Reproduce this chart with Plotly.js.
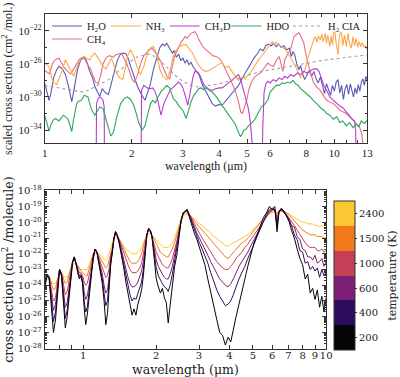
<!DOCTYPE html>
<html><head><meta charset="utf-8">
<script src="https://cdn.plot.ly/plotly-3.0.1.min.js"></script>
<style>html,body{margin:0;padding:0;background:#fff}#chart{width:400px;height:377px}</style>
</head><body><div id="chart"></div>
<script>
// ---------- TOP PANEL DATA (wavelength in µm, values as log10 of scaled cross section) ----------
const h2oWl = [1.00,1.02,1.035,1.05,1.075,1.10,1.12,1.15,1.18,1.21,
1.24,1.27,1.30,1.33,1.37,1.40,1.43,1.46,1.49,1.52,
1.55,1.58,1.62,1.66,1.70,1.74,1.78,1.82,1.87,1.91,
1.95,1.98,2.03,2.09,2.15,2.22,2.27,2.31,2.38,2.45,
2.50,2.55,2.60,2.64,2.68,2.72,2.76,2.80,2.85,2.90,
2.95,3.00,3.05,3.10,3.15,3.20,3.26,3.33,3.42,3.50,
3.60,3.69,3.79,3.89,4.00,4.10,4.21,4.32,4.43,4.55,
4.67,4.80,4.92,5.05,5.18,5.30,5.42,5.55,5.68,5.80,
5.92,6.05,6.18,6.30,6.42,6.55,6.70,6.85,7.00,7.10,
7.20,7.30,7.42,7.55,7.65,7.78,7.90,8.05,8.20,8.35,
8.50,8.65,8.80,8.95,9.10,9.25,9.40,9.55,9.70,9.85,
10.0,10.15,10.3,10.45,10.6,10.75,10.9,11.05,11.2,11.35,
11.5,11.65,11.8,11.95,12.1,12.25,12.4,12.55,12.7,12.85,
13.0];
const h2oLog = [-28.3,-29.4,-30.4,-29.6,-27.6,-26.7,-26.3,-26.6,-27.3,-28.8,
-30.6,-28.6,-26.6,-25.6,-25.1,-25.8,-26.9,-27.6,-28.7,-29.4,
-29.9,-29.0,-29.5,-29.7,-28.3,-27.1,-25.6,-24.9,-24.7,-24.8,
-25.5,-26.3,-27.4,-28.7,-29.6,-30.4,-29.4,-28.6,-26.5,-24.9,
-24.0,-23.6,-23.8,-23.5,-23.9,-24.3,-24.7,-24.4,-25.2,-24.8,
-25.6,-25.3,-25.9,-25.5,-26.1,-25.8,-26.4,-26.8,-27.4,-28.5,
-29.3,-30.1,-30.8,-31.1,-30.9,-31.0,-30.5,-30.1,-29.6,-29.0,
-28.6,-27.8,-27.2,-26.4,-25.8,-25.2,-24.8,-24.2,-24.4,-23.8,
-23.6,-23.8,-23.5,-23.9,-23.6,-24.0,-23.8,-24.3,-24.1,-25.1,
-24.5,-24.9,-26.0,-26.7,-26.2,-27.2,-27.9,-27.3,-26.8,-27.5,
-26.9,-27.8,-28.3,-27.6,-28.8,-29.6,-28.4,-29.2,-29.8,-28.6,
-29.3,-28.2,-27.9,-29.5,-28.6,-30.3,-29.0,-28.5,-29.7,-28.4,
-29.1,-30.0,-28.9,-29.6,-28.5,-29.3,-28.2,-27.8,-28.6,-27.5,
-28.0];

const ch4Wl = [1.00,1.02,1.04,1.06,1.08,1.10,1.12,1.14,1.17,1.20,
1.23,1.26,1.29,1.32,1.35,1.38,1.41,1.44,1.47,1.50,
1.53,1.56,1.59,1.62,1.65,1.68,1.72,1.76,1.80,1.84,
1.88,1.92,1.96,2.00,2.04,2.08,2.12,2.16,2.20,2.25,
2.30,2.35,2.40,2.45,2.50,2.55,2.60,2.65,2.70,2.75,
2.80,2.85,2.90,2.95,3.00,3.05,3.10,3.15,3.20,3.25,
3.30,3.35,3.40,3.50,3.60,3.70,3.80,3.90,4.00,4.10,
4.21,4.32,4.43,4.55,4.67,4.75,4.82,4.90,4.98,5.08,
5.18,5.30,5.45,5.60,5.75,5.90,6.05,6.17,6.30,6.45,
6.55,6.64,6.75,6.90,7.06,7.15,7.26,7.36,7.45,7.55,
7.65,7.75,7.85,7.95,8.06,8.15,8.27,8.40,8.49,8.70,
8.94,9.20,9.42,9.65,9.92,10.2,10.45,10.7,11.0,11.3,
11.6,11.9,12.2,12.4,12.55,12.65];
const ch4Log = [-26.8,-27.0,-27.2,-26.1,-25.6,-25.4,-25.3,-25.8,-26.5,-26.9,
-27.2,-26.6,-25.9,-25.4,-25.2,-25.5,-26.2,-26.6,-27.5,-28.2,
-28.4,-27.4,-26.0,-25.4,-25.1,-25.0,-25.2,-24.9,-24.8,-24.7,
-25.3,-26.0,-26.8,-27.8,-28.2,-27.6,-26.6,-25.6,-25.0,-24.6,
-24.3,-24.1,-24.5,-25.0,-25.5,-26.2,-27.0,-27.6,-27.8,-26.4,
-25.2,-24.6,-24.0,-23.4,-23.1,-22.7,-22.9,-22.6,-22.3,-22.2,
-22.1,-22.4,-23.0,-23.8,-24.3,-24.6,-25.0,-25.1,-25.3,-25.8,
-26.6,-27.4,-28.3,-29.3,-30.6,-31.8,-32.0,-31.2,-30.4,-29.0,
-28.2,-27.6,-27.3,-27.0,-26.4,-25.9,-26.2,-26.3,-25.6,-25.1,
-26.0,-26.9,-25.5,-24.8,-24.3,-23.4,-22.7,-22.5,-22.3,-22.2,
-22.6,-23.0,-23.5,-24.6,-25.5,-26.3,-27.1,-27.8,-28.3,-28.8,
-29.2,-29.9,-30.4,-30.6,-30.8,-31.2,-31.6,-31.8,-32.0,-32.4,
-32.8,-33.2,-33.6,-34.2,-35.3,-36.5];

const nh3Wl = [1.00,1.02,1.034,1.05,1.06,1.08,1.10,1.13,1.16,1.18,
1.21,1.24,1.26,1.29,1.31,1.34,1.37,1.40,1.43,1.46,
1.49,1.53,1.56,1.59,1.63,1.66,1.70,1.74,1.78,1.82,
1.86,1.90,1.93,1.98,2.03,2.08,2.14,2.20,2.24,2.28,
2.33,2.37,2.43,2.50,2.56,2.64,2.71,2.78,2.85,2.93,
3.00,3.08,3.16,3.24,3.33,3.42,3.50,3.60,3.69,3.79,
3.90,4.00,4.10,4.21,4.32,4.43,4.55,4.67,4.80,4.92,
5.05,5.18,5.32,5.45,5.60,5.75,5.90,6.00,6.10,6.20,
6.30,6.45,6.60,6.80,6.95,7.06,7.20,7.35,7.50,7.65,
7.80,7.95,8.10,8.27,8.40,8.50,8.60,8.70,8.80,8.94,
9.05,9.15,9.30,9.40,9.50,9.65,9.75,9.85,9.95,10.05,
10.15,10.3,10.4,10.5,10.6,10.7,10.85,11.0,11.15,11.3,
11.45,11.6,11.75,11.9,12.05,12.2,12.35,12.5,12.65,12.8,
13.0];
const nh3Log = [-25.9,-26.1,-26.3,-27.2,-27.9,-28.3,-28.5,-27.5,-26.3,-25.5,
-26.3,-27.1,-27.5,-26.5,-25.9,-25.3,-25.1,-25.4,-25.5,-25.0,
-24.7,-25.3,-25.8,-26.3,-26.6,-26.0,-25.3,-26.3,-27.3,-27.7,
-27.9,-26.4,-25.1,-24.3,-25.1,-26.3,-27.3,-26.3,-25.2,-24.3,
-24.0,-23.9,-24.7,-26.7,-27.5,-27.9,-26.8,-25.1,-24.3,-23.9,
-23.7,-23.7,-24.2,-24.7,-25.6,-26.3,-26.7,-26.9,-26.8,-26.6,
-26.3,-26.0,-25.9,-26.4,-26.3,-26.9,-27.4,-28.0,-27.6,-27.8,
-27.3,-26.9,-26.2,-25.6,-25.1,-24.5,-23.9,-23.6,-23.3,-23.6,
-23.4,-23.7,-24.0,-24.3,-24.8,-25.3,-25.8,-26.3,-27.0,-27.7,
-27.2,-26.5,-25.3,-24.3,-23.5,-23.0,-22.7,-23.4,-22.6,-23.1,
-22.4,-23.3,-22.3,-23.5,-22.5,-23.9,-22.6,-23.7,-22.2,-22.1,
-23.5,-24.9,-22.8,-22.2,-22.3,-23.8,-22.5,-23.9,-22.3,-23.6,
-24.1,-22.7,-23.8,-22.9,-24.0,-23.3,-23.9,-23.4,-24.0,-23.8,
-24.3];

const ch3dWl = [1.505,1.51,1.53,1.55,1.57,1.59,1.605,1.61,2.15,2.16,
2.20,2.26,2.31,2.36,2.40,2.45,2.52,2.58,2.66,2.72,
2.78,2.85,2.90,2.96,3.00,3.06,3.12,3.16,3.20,3.25,
3.30,3.38,3.45,3.52,3.60,3.70,3.79,3.89,4.00,4.10,
4.21,4.32,4.43,4.55,4.67,4.75,4.85,4.95,5.05,5.12,
5.18,5.22,5.26,5.62,5.66,5.72,5.80,5.90,6.00,6.15,
6.30,6.45,6.60,6.75,6.90,7.06,7.25,7.45,7.65,7.85,
8.05,8.27,8.49,8.70,8.85,9.00,9.20,9.40,9.65,9.92,
10.2,10.45,10.7,11.0,11.3,11.55,11.75,11.85,11.9];
const ch3dLog = [-40,-30.8,-30.2,-30.0,-30.1,-30.4,-31.2,-40,-40,-29.2,
-28.6,-28.9,-29.0,-28.9,-29.3,-30.2,-32.2,-30.8,-29.8,-29.1,
-28.8,-28.4,-28.2,-28.5,-28.9,-29.9,-31.0,-30.0,-28.8,-27.6,
-26.9,-27.0,-27.5,-28.3,-28.8,-29.1,-29.2,-29.0,-28.9,-28.9,
-28.6,-28.3,-28.0,-27.6,-27.3,-27.9,-29.2,-30.2,-31.4,-32.8,
-34.2,-36.0,-40,-40,-34.0,-29.5,-28.4,-28.1,-28.3,-27.9,
-28.1,-27.7,-27.9,-27.5,-27.7,-27.3,-27.5,-27.1,-27.3,-26.9,
-27.1,-26.8,-26.6,-26.6,-26.9,-27.6,-28.6,-29.2,-30.0,-30.4,
-30.8,-31.1,-31.3,-31.8,-32.4,-32.7,-32.9,-34.0,-40];

const hdoWl = [1.00,1.02,1.035,1.05,1.07,1.09,1.12,1.16,1.20,1.22,
1.24,1.26,1.29,1.31,1.34,1.37,1.41,1.45,1.49,1.52,
1.55,1.59,1.62,1.65,1.69,1.72,1.74,1.78,1.83,1.88,
1.93,1.98,2.03,2.08,2.11,2.17,2.22,2.28,2.32,2.36,
2.41,2.47,2.53,2.58,2.64,2.70,2.78,2.85,2.92,3.00,
3.08,3.14,3.20,3.27,3.33,3.40,3.46,3.53,3.60,3.70,
3.79,3.90,4.00,4.10,4.21,4.32,4.43,4.55,4.67,4.74,
4.80,4.88,4.96,5.05,5.18,5.32,5.45,5.60,5.75,5.90,
6.00,6.15,6.30,6.45,6.60,6.75,6.90,7.06,7.20,7.35,
7.50,7.65,7.85,8.05,8.27,8.50,8.70,8.95,9.20,9.42,
9.65,9.92,10.2,10.45,10.7,11.0,11.3,11.6,11.9,12.15,
12.4,12.7,13.0];
const hdoLog = [-32.2,-33.2,-34.1,-33.4,-32.8,-32.6,-32.9,-32.2,-32.6,-33.3,
-34.2,-32.6,-30.8,-30.5,-30.4,-29.8,-30.0,-31.5,-32.2,-31.7,
-31.2,-31.4,-32.4,-33.6,-34.7,-34.4,-33.8,-32.2,-30.8,-30.2,
-30.0,-30.3,-31.0,-32.2,-33.1,-34.0,-33.5,-31.8,-30.8,-30.4,
-30.7,-29.9,-29.3,-29.0,-28.6,-28.9,-30.2,-30.6,-31.2,-31.6,
-32.6,-31.6,-30.6,-29.8,-29.5,-29.0,-28.9,-29.1,-28.9,-29.2,
-29.4,-29.9,-30.5,-31.0,-31.6,-32.2,-32.7,-33.3,-34.3,-34.8,
-34.5,-34.0,-33.9,-33.5,-33.2,-32.7,-32.0,-31.2,-30.9,-30.3,
-29.4,-29.0,-28.6,-28.6,-28.3,-28.4,-28.2,-28.3,-28.0,-28.4,
-28.6,-29.0,-29.3,-29.6,-30.0,-30.5,-30.8,-31.3,-31.6,-32.0,
-32.2,-32.7,-32.4,-33.1,-32.9,-33.5,-33.1,-33.7,-33.3,-33.6,
-32.9,-33.2,-32.8];

const ciaWl = [1.0,1.1,1.2,1.3,1.37,1.45,1.55,1.66,1.78,1.9,2.0,2.1,2.2,2.3,2.4,2.5,2.64,2.8,3.0,3.2,3.4,3.7,4.0,4.5,5.0,5.6,6.3,7.0,8.0,9.0,10.0,11.0,12.0,13.0];
const ciaLog = [-28.6,-28.9,-29.1,-29.3,-29.4,-29.0,-28.5,-27.9,-27.0,-26.2,-25.6,-25.1,-24.9,-24.8,-25.1,-25.6,-26.4,-27.3,-28.1,-28.6,-28.8,-28.6,-28.4,-27.9,-27.4,-26.9,-26.6,-26.3,-25.9,-25.6,-25.4,-25.2,-25.0,-24.9];

// ---------- BOTTOM PANEL DATA (log10 cross section, cm^2/molecule) ----------
const wlBottom = [0.695,0.71,0.725,0.74,0.755,0.77,0.785,0.80,0.815,0.83,
0.845,0.86,0.875,0.89,0.905,0.92,0.935,0.95,0.965,0.98,
0.995,1.01,1.025,1.04,1.06,1.08,1.10,1.12,1.14,1.16,
1.18,1.20,1.22,1.24,1.26,1.28,1.30,1.32,1.34,1.36,
1.38,1.41,1.44,1.47,1.50,1.53,1.56,1.59,1.62,1.65,
1.68,1.71,1.74,1.77,1.80,1.83,1.86,1.89,1.92,1.96,
2.00,2.04,2.08,2.12,2.16,2.20,2.24,2.28,2.33,2.38,
2.43,2.48,2.53,2.58,2.63,2.68,2.74,2.80,2.87,2.94,
3.01,3.09,3.17,3.26,3.35,3.45,3.55,3.65,3.75,3.85,
3.95,4.05,4.15,4.26,4.38,4.50,4.63,4.76,4.90,5.05,
5.20,5.36,5.52,5.68,5.84,6.00,6.15,6.28,6.40,6.55,
6.70,6.86,7.02,7.20,7.40,7.60,7.80,8.00,8.20,8.40,
8.60,8.80,9.00,9.20,9.40,9.60,9.80,10.0];
const t200 = [-24.2,-23.4,-23.6,-25.5,-27.0,-26.2,-24.4,-23.0,-23.4,-24.8,
-26.7,-26.0,-24.8,-23.3,-22.6,-22.2,-22.6,-23.2,-23.6,-23.4,
-23.9,-25.4,-26.5,-25.9,-24.6,-23.5,-22.3,-21.7,-21.9,-22.6,
-23.2,-23.9,-25.0,-26.5,-25.8,-24.2,-22.6,-21.9,-21.0,-20.6,
-20.8,-21.4,-22.1,-22.9,-23.8,-24.4,-25.2,-25.9,-25.5,-25.9,
-25.2,-24.8,-24.3,-23.4,-22.0,-20.8,-20.4,-20.5,-20.9,-22.2,
-23.6,-24.1,-24.5,-24.2,-24.8,-25.1,-26.4,-25.3,-23.9,-22.8,
-22.1,-20.9,-19.9,-19.4,-19.3,-19.2,-19.7,-20.2,-20.7,-21.1,
-21.6,-22.1,-22.7,-23.6,-24.5,-25.3,-26.2,-27.0,-27.2,-27.8,
-27.3,-27.6,-26.7,-26.0,-25.2,-24.5,-23.6,-22.8,-22.0,-21.3,
-20.8,-20.2,-19.7,-19.4,-19.0,-19.2,-19.0,-20.6,-19.3,-19.1,
-19.3,-19.6,-19.9,-20.5,-21.0,-21.7,-22.3,-22.7,-23.6,-23.3,
-24.5,-24.2,-24.9,-24.3,-25.4,-24.7,-25.7,-24.8];
const t400 = [-24.0,-23.3,-23.5,-25.0,-26.3,-25.7,-24.1,-23.0,-23.3,-24.5,
-26.1,-25.6,-24.4,-23.2,-22.5,-22.2,-22.6,-23.1,-23.5,-23.4,
-23.8,-25.0,-25.7,-25.4,-24.3,-23.3,-22.2,-21.7,-21.9,-22.5,
-23.0,-23.6,-24.5,-25.3,-25.0,-23.8,-22.4,-21.8,-21.0,-20.6,
-20.8,-21.3,-22.0,-22.7,-23.4,-24.0,-24.6,-25.0,-24.8,-24.9,
-24.5,-24.2,-23.8,-23.0,-21.8,-20.8,-20.4,-20.5,-20.9,-21.9,
-22.9,-23.4,-23.7,-23.9,-24.1,-24.2,-24.4,-24.0,-23.3,-22.5,
-21.8,-20.8,-19.9,-19.4,-19.3,-19.2,-19.6,-20.0,-20.5,-20.9,
-21.3,-21.7,-22.1,-22.6,-23.2,-23.8,-24.3,-24.7,-25.0,-25.3,
-25.2,-25.0,-24.6,-24.1,-23.6,-23.2,-22.8,-22.3,-21.9,-21.4,
-20.9,-20.4,-19.9,-19.5,-19.2,-19.1,-19.2,-20.3,-19.3,-19.2,
-19.4,-19.5,-19.9,-20.2,-20.8,-21.1,-21.8,-21.9,-22.6,-22.5,
-23.0,-22.8,-23.1,-22.9,-23.5,-23.0,-23.4,-23.2];
const t600 = [-23.9,-23.3,-23.5,-24.6,-25.6,-25.2,-23.9,-23.0,-23.3,-24.3,
-25.4,-25.1,-24.1,-23.1,-22.5,-22.2,-22.6,-23.0,-23.4,-23.3,
-23.6,-24.4,-24.9,-24.7,-23.9,-23.1,-22.2,-21.7,-21.9,-22.4,
-22.8,-23.3,-24.0,-24.5,-24.3,-23.4,-22.3,-21.8,-21.0,-20.6,
-20.8,-21.2,-21.8,-22.4,-23.0,-23.5,-23.9,-24.1,-24.1,-24.0,
-23.8,-23.5,-23.1,-22.5,-21.6,-20.8,-20.4,-20.5,-20.9,-21.7,
-22.4,-22.8,-23.1,-23.3,-23.5,-23.6,-23.6,-23.3,-22.8,-22.1,
-21.5,-20.7,-19.9,-19.4,-19.3,-19.2,-19.5,-19.9,-20.3,-20.7,
-21.0,-21.4,-21.7,-22.1,-22.5,-22.9,-23.3,-23.6,-23.8,-24.0,
-24.1,-23.9,-23.6,-23.2,-22.8,-22.5,-22.2,-21.9,-21.5,-21.1,
-20.7,-20.3,-19.9,-19.6,-19.3,-19.2,-19.2,-20.0,-19.3,-19.2,
-19.3,-19.6,-19.7,-20.2,-20.3,-20.9,-21.1,-21.7,-21.8,-22.2,
-22.2,-22.4,-22.1,-22.6,-22.5,-22.3,-22.8,-22.5];
const t1000 = [-23.7,-23.3,-23.5,-24.3,-25.0,-24.8,-23.8,-23.0,-23.2,-23.9,
-24.6,-24.4,-23.7,-23.0,-22.5,-22.3,-22.6,-22.9,-23.2,-23.2,
-23.4,-23.8,-24.0,-23.9,-23.4,-22.8,-22.1,-21.8,-21.9,-22.2,
-22.5,-22.8,-23.2,-23.5,-23.4,-22.9,-22.1,-21.7,-21.0,-20.7,
-20.8,-21.1,-21.5,-22.0,-22.4,-22.7,-23.0,-23.2,-23.2,-23.2,
-23.1,-22.9,-22.6,-22.1,-21.4,-20.8,-20.5,-20.6,-20.9,-21.4,
-21.9,-22.2,-22.5,-22.7,-22.8,-22.9,-22.9,-22.7,-22.3,-21.8,
-21.2,-20.5,-19.9,-19.5,-19.3,-19.3,-19.5,-19.8,-20.1,-20.4,
-20.7,-21.0,-21.3,-21.6,-21.9,-22.2,-22.5,-22.7,-22.9,-23.0,
-23.0,-22.8,-22.6,-22.3,-22.1,-21.9,-21.6,-21.4,-21.1,-20.8,
-20.5,-20.2,-19.9,-19.6,-19.4,-19.2,-19.2,-19.7,-19.3,-19.2,
-19.3,-19.5,-19.7,-19.9,-20.2,-20.5,-20.8,-21.1,-21.3,-21.5,
-21.6,-21.6,-21.6,-21.8,-21.8,-21.7,-21.9,-21.8];
const t1500 = [-23.6,-23.3,-23.4,-23.9,-24.3,-24.2,-23.6,-23.1,-23.2,-23.5,
-23.9,-23.8,-23.3,-22.8,-22.5,-22.4,-22.6,-22.8,-23.0,-23.1,
-23.2,-23.3,-23.4,-23.4,-23.0,-22.5,-22.0,-21.8,-21.9,-22.1,
-22.3,-22.5,-22.7,-22.9,-22.8,-22.4,-21.9,-21.6,-21.0,-20.8,
-20.9,-21.1,-21.4,-21.7,-22.0,-22.3,-22.5,-22.6,-22.6,-22.6,
-22.5,-22.3,-22.0,-21.6,-21.1,-20.7,-20.5,-20.6,-20.8,-21.1,
-21.4,-21.7,-21.9,-22.0,-22.1,-22.2,-22.2,-22.0,-21.7,-21.3,
-20.8,-20.3,-19.8,-19.5,-19.4,-19.4,-19.5,-19.7,-19.9,-20.1,
-20.3,-20.5,-20.7,-20.9,-21.1,-21.4,-21.6,-21.8,-22.0,-22.2,
-22.3,-22.1,-21.9,-21.7,-21.5,-21.3,-21.2,-21.0,-20.8,-20.5,
-20.3,-20.0,-19.8,-19.6,-19.4,-19.3,-19.2,-19.5,-19.3,-19.3,
-19.3,-19.4,-19.5,-19.7,-19.9,-20.1,-20.3,-20.5,-20.6,-20.7,
-20.8,-20.8,-20.8,-20.9,-20.9,-20.9,-21.0,-21.0];
const t2400 = [-23.8,-23.6,-23.6,-23.8,-23.9,-23.9,-23.6,-23.3,-23.3,-23.4,
-23.5,-23.5,-23.2,-22.9,-22.7,-22.6,-22.7,-22.8,-22.9,-23.0,
-23.0,-23.0,-23.0,-23.0,-22.7,-22.3,-22.0,-21.9,-21.9,-22.0,
-22.1,-22.2,-22.3,-22.4,-22.3,-22.0,-21.6,-21.3,-21.0,-20.9,
-21.0,-21.1,-21.3,-21.5,-21.7,-21.8,-21.9,-22.0,-22.0,-22.0,
-21.9,-21.8,-21.6,-21.3,-21.0,-20.8,-20.7,-20.7,-20.8,-21.0,
-21.1,-21.3,-21.4,-21.5,-21.6,-21.6,-21.6,-21.5,-21.3,-21.0,
-20.6,-20.2,-19.8,-19.6,-19.5,-19.5,-19.6,-19.7,-19.8,-19.9,
-20.1,-20.2,-20.4,-20.5,-20.7,-20.9,-21.0,-21.2,-21.3,-21.5,
-21.5,-21.4,-21.3,-21.2,-21.1,-21.0,-20.9,-20.8,-20.6,-20.4,
-20.2,-20.0,-19.8,-19.6,-19.5,-19.4,-19.3,-19.4,-19.3,-19.3,
-19.3,-19.4,-19.5,-19.6,-19.7,-19.8,-19.9,-20.0,-20.0,-20.1,
-20.1,-20.1,-20.2,-20.2,-20.3,-20.2,-20.3,-20.3];

const tempLabels = ['200','400','600','1000','1500','2400'];
const tempColors = ['#050407','#2e0c5c','#7b1f77','#c6405a','#f37a1b','#f9c832'];

// ---------- BUILD ----------
const pow10 = a => a.map(v => Math.pow(10, v));
const SERIF_T = 'Liberation Serif, DejaVu Serif, serif';
const SERIF_D = 'DejaVu Serif, serif';
const INK = '#222';

const traces = [];
function topLine(name, wl, lg, color, legendId, dash) {
  traces.push({type:'scatter', mode:'lines', name:name, x:wl, y:pow10(lg),
    xaxis:'x', yaxis:'y', legend:legendId, hoverinfo:'skip',
    line:{color:color, width:1.1, dash:dash||'solid'}});
}
topLine('H\u2082O', h2oWl, h2oLog, '#5a5ab4', 'legend');
topLine('CH\u2084', ch4Wl, ch4Log, '#ec6a83', 'legend6');
topLine('NH\u2083', nh3Wl, nh3Log, '#f9a94b', 'legend2');
topLine('CH\u2083D', ch3dWl, ch3dLog, '#b93ad6', 'legend3');
topLine('HDO', hdoWl, hdoLog, '#2ea65a', 'legend4');
topLine('H\u2082 CIA', ciaWl, ciaLog, '#a0a0a0', 'legend5', 'dot');

const tempSeries = [t200, t400, t600, t1000, t1500, t2400];
for (let i = tempSeries.length - 1; i >= 0; i--) {
  traces.push({type:'scatter', mode:'lines', name:tempLabels[i]+' K', x:wlBottom, y:pow10(tempSeries[i]),
    xaxis:'x2', yaxis:'y2', showlegend:false, hoverinfo:'skip',
    line:{color:tempColors[i], width:1}});
}
// discrete colour scale for the temperature colorbar
const cs = [];
tempColors.forEach((c, i) => { cs.push([i/6, c]); cs.push([(i+1)/6, c]); });
traces.push({type:'scatter', mode:'markers', x:[1], y:[1e-40], xaxis:'x2', yaxis:'y2',
  showlegend:false, hoverinfo:'skip',
  marker:{size:1, opacity:0, color:[0], cmin:0, cmax:6, colorscale:cs, showscale:true,
    colorbar:{x:0.8525, xanchor:'left', xpad:0, y:0.269, yanchor:'middle', ypad:0,
      len:149, lenmode:'pixels', thickness:21, thicknessmode:'pixels',
      outlinewidth:1, outlinecolor:'#333',
      tickmode:'array', tickvals:[0.5,1.5,2.5,3.5,4.5,5.5], ticktext:tempLabels,
      ticks:'outside', ticklen:2, tickcolor:'#333',
      tickfont:{family:SERIF_D, size:10, color:INK},
      title:{text:'temperature (K)', side:'right', font:{family:SERIF_D, size:11, color:INK}}}}});

// ticks
const topXVals = [1,2,3,4,5,6,8,10,13];
const topXMinor = [7,9,11,12];
const topYVals = [1e-34,1e-30,1e-26,1e-22];
const topYText = topYVals.map(v => '10<sup>\u2212' + Math.round(-Math.log10(v)) + '</sup>');
const botXVals = [1,2,3,4,5,6,7,8,9,10];
const botXMinor = [0.7,0.8,0.9];
const botYVals = [], botYText = [], botYMinor = [];
for (let d = -28; d <= -18; d++) {
  botYVals.push(Math.pow(10, d));
  botYText.push('10<sup>' + d + '</sup>');
  for (let k = 2; k <= 9; k++) botYMinor.push(k * Math.pow(10, d));
}

const axBase = {type:'log', showline:true, mirror:'ticks', linecolor:'#333', linewidth:1,
  ticks:'inside', ticklen:4, tickcolor:'#333', showgrid:false, zeroline:false, tickmode:'array', tickangle:0};

// legend boxes (one per legend column / row, matching the reference arrangement)
function legendBox(xPx, yPx) {
  return {orientation:'v', x:xPx/400, y:1 - yPx/377, xanchor:'left', yanchor:'middle',
    bgcolor:'rgba(0,0,0,0)', borderwidth:0, itemwidth:30, tracegroupgap:0,
    font:{family:SERIF_T, size:10.5, color:INK}};
}

const layout = {
  width:400, height:377, margin:{l:0, r:0, t:0, b:0},
  paper_bgcolor:'#fff', plot_bgcolor:'#fff', showlegend:true,
  legend: legendBox(48, 26),
  legend6: legendBox(48, 39),
  legend2: legendBox(108, 26),
  legend3: legendBox(168, 26),
  legend4: legendBox(231, 26),
  legend5: legendBox(294, 26),
  xaxis:Object.assign({}, axBase, {domain:[0.114,0.937], anchor:'y', range:[0, Math.log10(13)],
    tickvals:topXVals, ticktext:topXVals.map(String),
    minor:{tickvals:topXMinor, ticks:'inside', ticklen:3, tickcolor:'#333'},
    tickfont:{family:SERIF_T, size:11, color:INK},
    title:{text:'wavelength (\u03bcm)', font:{family:SERIF_T, size:12, color:INK}, standoff:2}}),
  yaxis:Object.assign({}, axBase, {domain:[0.620,0.962], anchor:'x', range:[-35.6,-20],
    tickvals:topYVals, ticktext:topYText,
    minor:{tickvals:[1e-32,1e-28,1e-24,1e-20], ticks:'inside', ticklen:2, tickcolor:'#333'},
    tickfont:{family:SERIF_T, size:11, color:INK},
    title:{text:'scaled cross section (cm<sup>2</sup> /mol.)', font:{family:SERIF_T, size:12, color:INK}, standoff:4}}),
  xaxis2:Object.assign({}, axBase, {domain:[0.114,0.832], anchor:'y2', range:[Math.log10(0.695), 1],
    tickvals:botXVals, ticktext:botXVals.map(String), ticklabelstandoff:-3,
    minor:{tickvals:botXMinor, ticks:'inside', ticklen:4, tickcolor:'#333'},
    tickfont:{family:SERIF_D, size:10, color:INK},
    title:{text:'wavelength (\u03bcm)', font:{family:SERIF_D, size:12.5, color:INK}, standoff:5}}),
  yaxis2:Object.assign({}, axBase, {domain:[0.0743,0.496], anchor:'x2', range:[-28.05,-17.95],
    tickvals:botYVals, ticktext:botYText,
    minor:{tickvals:botYMinor, ticks:'inside', ticklen:2, tickcolor:'#333'},
    tickfont:{family:SERIF_D, size:10, color:INK},
    title:{text:'cross section (cm<sup>2</sup> /molecule)', font:{family:SERIF_D, size:12.5, color:INK}, standoff:4}})
};

Plotly.newPlot('chart', traces, layout, {staticPlot:true, displayModeBar:false});
</script></body></html>
